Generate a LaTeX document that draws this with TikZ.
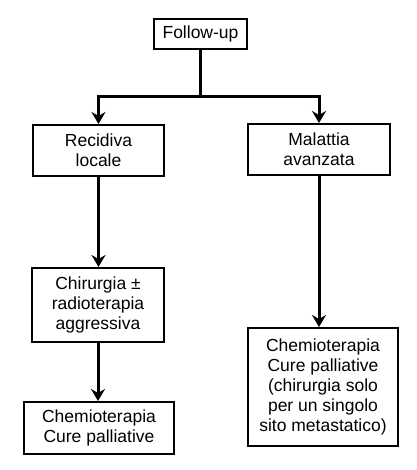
\documentclass[tikz,border=0pt]{standalone}
\usepackage{fontspec}
\setmainfont{Liberation Sans}
\usetikzlibrary{arrows.meta}

\tikzset{
  box/.style={draw, line width=2pt, align=center, inner sep=0pt,
    font=\fontsize{17.5}{20}\selectfont},
  link/.style={line width=3pt},
  arrowlink/.style={link, -{Stealth[length=12pt,width=14pt,inset=4pt]}}
}

\begin{document}
\begin{tikzpicture}[x=1pt,y=-1pt]
  \useasboundingbox (0,0) rectangle (416,470);

  % Kaesten
  \node[box, minimum width=93pt, minimum height=30pt] (follow) at (200.5,34) {Follow-up};
  \node[box, minimum width=131pt, minimum height=51pt] (recid) at (98.5,150.5) {Recidiva\\locale};
  \node[box, minimum width=142pt, minimum height=51pt] (malat) at (319,149.5) {Malattia\\avanzata};
  \node[box, minimum width=132pt, minimum height=74pt] (chir) at (98,305) {Chirurgia \textpm\\radioterapia\\aggressiva};
  \node[box, minimum width=150pt, minimum height=52pt] (chemoL) at (99,428) {Chemioterapia\\Cure palliative};
  \node[box, minimum width=150pt, minimum height=118pt] (chemoR) at (323,387)
    {Chemioterapia\\Cure palliative\\(chirurgia solo\\per un singolo\\sito metastatico)};

  \coordinate (split) at (200.5,97);

  % Pfeile
  \draw[link] (follow) -- (split);
  \draw[arrowlink] (split) -| (recid);
  \draw[arrowlink] (split) -| (malat);
  \draw[arrowlink] (recid) -- (recid |- chir.north);
  \draw[arrowlink] (chir) -- (chir |- chemoL.north);
  \draw[arrowlink] (malat) -- (malat |- chemoR.north);

\end{tikzpicture}
\end{document}
